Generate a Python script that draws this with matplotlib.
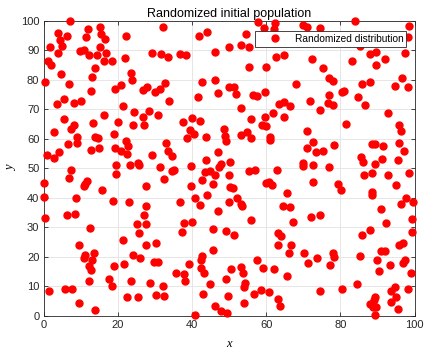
import matplotlib
matplotlib.use("Agg")
import matplotlib.pyplot as plt
from matplotlib.lines import Line2D

x_vals = [
 7.2,4.0,6.3,12.1,15.3,15.6,11.5,16.5,4.5,5.0,1.8,3.9,15.2,22.1,9.8,11.0,12.2,14.4,16.9,1.1,2.0,16.3,18.5,22.0,14.0,4.8,13.0,23.6,23.9,0.5,6.8,20.9,19.3,12.8,5.6,3.5,8.1,10.1,21.3,16.3,24.4,5.4,
 32.2,41.9,44.1,29.2,31.6,33.5,36.8,38.4,46.1,42.6,46.3,32.8,27.9,26.9,29.96,31.5,46.9,41.5,33.9,28.3,26.9,30.9,40.1,
 57.7,62.3,59.4,62.0,69.8,70.9,74.5,54.6,50.1,53.1,55.4,62.7,64.9,72.3,55.4,60.0,67.9,49.9,51.2,52.0,56.4,57.4,59.8,71.8,64.9,63.4,66.3,53.1,74.5,61.8,59.6,64.7,56.0,
 83.9,98.4,98.2,85.4,88.1,89.7,97.4,92.1,83.1,89.7,75.4,76.9,78.0,96.5,88.0,85.9,94.7,98.1,80.4,81.0,76.9,84.7,76.7,78.1,86.7,92.9,
 2.8,7.5,8.3,13.3,20.2,24.0,9.1,13.8,14.8,18.9,22.2,6.6,9.1,22.8,12.7,14.9,19.3,21.0,22.5,1.0,2.7,4.1,19.4,23.4,7.4,19.6,6.9,0.2,11.7,11.2,10.8,15.7,0.2,8.8,18.7,22.9,6.3,8.6,0.3,
 27.0,37.5,42.1,39.6,40.6,38.7,43.7,48.6,48.8,49.3,33.0,33.6,34.7,29.1,25.4,25.6,31.3,34.7,35.2,39.8,43.7,46.9,47.8,47.3,43.4,44.9,46.3,32.5,42.7,45.8,27.5,39.7,44.1,40.9,36.7,42.1,27.7,47.0,27.1,
 58.9,60.0,54.9,53.2,55.8,60.9,61.1,70.9,72.7,71.1,73.3,50.3,69.9,69.8,72.6,55.5,57.0,63.0,49.9,60.0,60.7,61.7,72.7,50.3,51.1,65.5,50.1,52.2,53.1,53.4,64.6,66.3,72.1,74.5,
 81.6,95.9,96.3,78.2,75.3,88.4,89.3,91.6,95.8,97.2,85.6,86.1,91.2,89.3,95.6,77.0,86.3,88.5,92.7,98.5,94.9,79.4,80.1,88.5,88.6,97.6,96.4,99.5,91.0,99.2,
 12.4,21.5,9.5,11.1,11.0,13.7,13.0,12.3,12.7,18.9,21.6,24.0,12.2,17.6,18.4,23.7,1.5,5.8,7.8,22.4,9.5,13.9,
 25.2,27.5,37.8,40.1,25.6,37.2,45.6,49.1,27.7,30.2,45.7,25.9,29.7,30.9,39.1,42.7,42.5,42.5,43.3,35.6,37.9,38.0,49.1,28.6,32.1,44.8,25.4,30.4,32.5,43.1,49.7,46.2,47.8,49.5,40.8,
 56.0,67.2,51.3,63.2,64.1,63.3,66.6,66.1,70.3,73.6,71.4,57.5,59.1,62.2,53.3,50.5,53.7,65.6,54.4,54.1,58.7,56.8,60.8,74.5,63.1,63.7,54.0,
 92.2,88.0,85.9,99.2,95.9,96.9,90.9,91.9,77.9,78.3,85.2,89.9,93.3,97.0,97.3,77.2,90.5,99.0,80.4,84.6,94.6,93.5,98.3,89.4,95.1,89.1,93.5,88.1,89.7,88.8,95.5,89.2,
]
y_vals = [
 99.9,95.8,95.0,97.1,97.8,95.5,94.6,93.7,93.4,91.5,91.0,89.2,91.2,95.0,89.9,90.2,88.4,88.5,89.1,86.4,84.9,86.5,86.4,87.5,84.1,82.1,81.0,82.2,80.0,79.3,78.6,78.2,77.0,76.3,73.4,71.7,72.3,72.8,71.1,68.2,69.0,66.6,
 97.8,94.8,96.2,89.2,88.9,87.8,88.9,88.4,89.4,79.4,80.0,78.9,77.7,76.7,75.8,77.0,75.5,74.3,72.8,69.3,67.4,68.0,67.1,
 99.7,99.4,97.4,97.2,98.6,97.9,97.7,95.6,91.1,91.9,91.0,87.8,88.3,87.1,84.2,84.2,78.5,77.7,77.7,75.2,74.8,74.4,75.9,72.7,72.6,71.8,71.1,70.6,69.9,68.8,67.4,67.5,66.9,
 99.8,98.1,94.4,91.6,88.7,89.3,89.0,87.2,86.5,85.0,83.9,80.6,79.7,80.5,79.3,78.6,78.0,77.7,75.9,76.2,74.7,74.2,72.0,71.4,71.5,68.8,
 62.2,63.4,64.7,65.4,65.6,64.6,60.7,60.8,60.3,61.6,59.4,58.2,58.6,57.7,56.3,57.0,56.9,55.8,54.8,54.7,53.6,55.4,51.2,51.1,49.3,48.1,46.7,45.2,45.8,44.7,43.9,42.6,40.4,39.8,39.0,38.7,34.2,34.7,33.2,
 64.8,65.7,66.0,63.0,61.7,60.4,60.6,63.5,60.9,59.3,58.7,56.0,54.2,54.7,51.9,51.0,50.5,49.2,49.6,50.7,52.9,55.7,51.6,50.6,48.7,49.1,47.7,46.4,46.0,44.8,44.0,44.0,41.1,39.9,38.5,37.5,37.1,35.6,34.3,
 64.6,64.3,62.4,61.3,60.3,60.7,59.6,62.8,59.1,56.9,55.7,52.3,51.9,50.8,51.1,49.1,49.3,49.6,47.6,44.9,45.4,44.3,45.4,43.7,43.3,41.6,38.7,39.9,38.1,37.2,37.2,36.8,33.6,34.3,
 65.2,64.8,62.6,58.0,56.0,58.4,58.4,57.6,58.5,56.0,53.8,52.1,53.2,51.5,52.7,50.4,47.6,48.3,47.6,48.3,44.4,44.7,42.8,41.9,41.0,39.8,38.0,38.6,36.1,32.7,
 29.9,25.9,23.9,20.8,19.7,21.5,18.8,16.9,15.5,16.9,17.6,20.8,11.8,12.5,10.2,11.8,8.6,9.0,9.2,6.6,4.3,1.9,
 31.3,31.3,31.6,31.8,28.1,28.6,29.3,28.7,24.1,24.6,22.5,19.7,18.3,18.3,17.6,20.3,18.9,16.1,14.4,14.5,14.2,11.9,12.4,11.2,10.0,10.8,6.5,7.1,6.9,7.6,6.8,3.3,1.6,0.9,0.5,
 32.5,31.9,27.5,28.2,27.1,23.9,24.2,21.3,21.5,19.5,17.8,19.1,16.4,16.0,16.6,15.9,14.6,13.7,11.2,9.9,8.7,7.5,8.1,8.5,5.6,3.5,4.4,
 31.5,29.1,27.4,28.3,24.0,24.8,22.1,22.1,21.2,20.0,20.2,18.8,17.2,17.8,18.9,17.2,15.1,14.4,9.3,10.8,9.8,8.4,9.3,6.6,6.4,5.4,4.8,4.1,3.0,2.9,2.5,0.3,
]

x_ticks = [0, 20, 40, 60, 80, 100]
y_ticks = [0, 10, 20, 30, 40, 50, 60, 70, 80, 90, 100]
series_label = 'Randomized distribution'

plt.rcParams['font.family'] = ['Liberation Sans', 'DejaVu Sans']

fig = plt.figure(figsize=(4.31, 3.56), dpi=100)
ax = fig.add_axes([0.101, 0.1124, 0.861, 0.8292])

ax.plot(x_vals, y_vals, linestyle='none', marker='o', markersize=5.0,
        color='#ff0000', markeredgecolor='#ff0000', clip_on=False, zorder=3)

ax.set_xlim(0, 100)
ax.set_ylim(0, 100)
ax.set_xticks(x_ticks)
ax.set_yticks(y_ticks)
ax.grid(True, color='#e6e6e6', linewidth=0.7, zorder=0)
ax.set_axisbelow(True)
ax.tick_params(direction='in', length=3, width=0.6, colors='#262626',
               labelsize=8, top=True, right=True, pad=3)
for s in ax.spines.values():
    s.set_color('#262626')
    s.set_linewidth(0.6)

ax.set_title('Randomized initial population', fontsize=9, color='black', pad=3)
ax.set_xlabel('x', fontsize=9, family='Liberation Serif', style='italic', labelpad=6)
ax.set_ylabel('y', fontsize=9, family='Liberation Serif', style='italic', labelpad=3)

proxy = Line2D([0], [0], linestyle='none', marker='o', markersize=5.0,
               markerfacecolor='#ff0000', markeredgecolor='#ff0000')
leg = ax.legend([proxy], [series_label], loc='upper right',
                bbox_to_anchor=(0.978, 0.967), borderaxespad=0,
                fontsize=7.3, frameon=True, fancybox=False, edgecolor='#262626',
                framealpha=1, handlelength=3.35, handletextpad=0.3, borderpad=0.3)
leg.get_frame().set_linewidth(0.6)

fig.savefig('out.png', dpi=100)
